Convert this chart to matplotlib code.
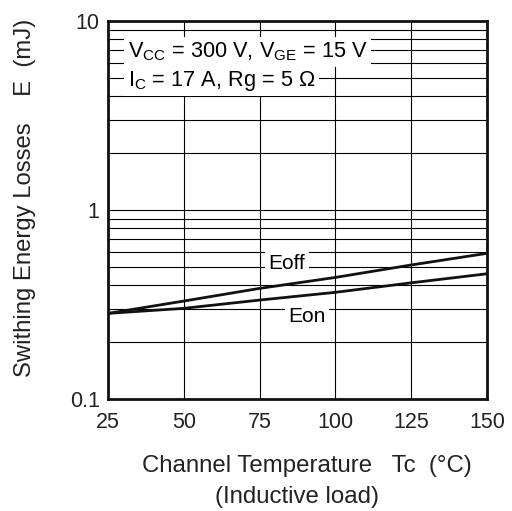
import matplotlib
matplotlib.use('Agg')
import matplotlib.pyplot as plt
from matplotlib.ticker import LogLocator, FixedLocator, NullFormatter

plt.rcParams['font.family'] = ['Liberation Sans', 'DejaVu Sans']
plt.rcParams['mathtext.fontset'] = 'custom'
plt.rcParams['mathtext.rm'] = 'Liberation Sans'
plt.rcParams['mathtext.it'] = 'Liberation Sans'

# data
temperature = [25, 50, 75, 100, 125, 150]
eoff = [0.284, 0.33, 0.385, 0.44, 0.512, 0.59]
eon = [0.284, 0.302, 0.334, 0.367, 0.412, 0.46]

x_ticks = [25, 50, 75, 100, 125, 150]
y_ticks = [0.1, 1, 10]
y_tick_labels = ['0.1', '1', '10']

fig = plt.figure(figsize=(5.12, 5.11), dpi=100)
ax = fig.add_axes([0.211, 0.219, 0.740, 0.740])

ax.set_yscale('log')
ax.set_xlim(25, 150)
ax.set_ylim(0.1, 10)

ax.xaxis.set_major_locator(FixedLocator(x_ticks))
ax.yaxis.set_major_locator(FixedLocator(y_ticks))
ax.set_yticklabels(y_tick_labels)
ax.yaxis.set_minor_locator(LogLocator(base=10, subs=range(2, 10)))
ax.yaxis.set_minor_formatter(NullFormatter())

ax.grid(True, which='both', color='black', linewidth=0.8)
ax.tick_params(which='both', length=0, labelsize=15.5, colors='#222222')
ax.tick_params(axis='x', pad=9)
ax.tick_params(axis='y', pad=6)

for sp in ax.spines.values():
    sp.set_linewidth(2)
    sp.set_color('#111111')

ax.plot(temperature, eoff, color='#111111', linewidth=2, zorder=5)
ax.plot(temperature, eon, color='#111111', linewidth=2, zorder=5)

box = dict(facecolor='white', edgecolor='none', pad=2.5)
ax.text(84, 0.524, 'Eoff', fontsize=15, ha='center', va='center', bbox=box, zorder=4)
ax.text(90.6, 0.275, 'Eon', fontsize=15, ha='center', va='center', bbox=box, zorder=4)

ax.text(31.5, 6.85, r'V$_{\mathrm{CC}}$ = 300 V, V$_{\mathrm{GE}}$ = 15 V',
        fontsize=15.7, ha='left', va='center', bbox=box, zorder=4)
ax.text(31.5, 4.82, r'I$_{\mathrm{C}}$ = 17 A, Rg = 5 $\Omega$',
        fontsize=15.7, ha='left', va='center', bbox=box, zorder=4)

fig.text(307 / 512, 1 - 466 / 511, 'Channel Temperature   Tc  (°C)',
         fontsize=17.3, ha='center', va='center', color='#222222')
fig.text(297 / 512, 1 - 497 / 511, '(Inductive load)',
         fontsize=17.3, ha='center', va='center', color='#222222')
fig.text(25 / 512, 1 - 198 / 511, 'Swithing Energy Losses    E  (mJ)',
         fontsize=17.2, ha='center', va='center', rotation=90, color='#222222')

fig.savefig('out.png', dpi=100)
